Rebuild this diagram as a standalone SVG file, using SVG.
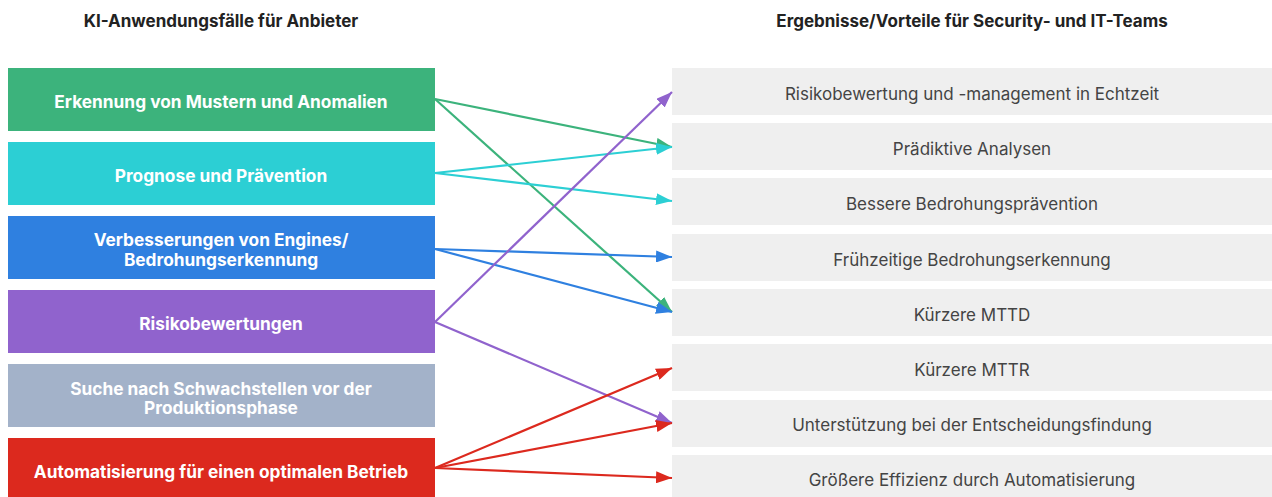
<svg xmlns="http://www.w3.org/2000/svg" width="1272" height="497" viewBox="0 0 1272 497">
<style>
.hdr{font-family:Inter,"Liberation Sans",sans-serif;font-size:17px;font-weight:700;fill:#222;text-anchor:middle}
.lt{font-family:Inter,"Liberation Sans",sans-serif;font-size:17.3px;font-weight:700;fill:#fff;text-anchor:middle}
.rt{font-family:Inter,"Liberation Sans",sans-serif;font-size:17px;fill:#444;text-anchor:middle}
.rb{fill:#efefef}
.c{fill:none;stroke-width:2.2}
</style>
<defs>
<marker id="mg" viewBox="0 0 16 12" refX="16" refY="6" markerWidth="16" markerHeight="12" markerUnits="userSpaceOnUse" orient="auto"><path d="M0,0 L16,6 L0,12 z" fill="#3cb37c"/></marker>
<marker id="mc" viewBox="0 0 16 12" refX="16" refY="6" markerWidth="16" markerHeight="12" markerUnits="userSpaceOnUse" orient="auto"><path d="M0,0 L16,6 L0,12 z" fill="#2ccfd4"/></marker>
<marker id="mb" viewBox="0 0 16 12" refX="16" refY="6" markerWidth="16" markerHeight="12" markerUnits="userSpaceOnUse" orient="auto"><path d="M0,0 L16,6 L0,12 z" fill="#2f80e0"/></marker>
<marker id="mp" viewBox="0 0 16 12" refX="16" refY="6" markerWidth="16" markerHeight="12" markerUnits="userSpaceOnUse" orient="auto"><path d="M0,0 L16,6 L0,12 z" fill="#9063cd"/></marker>
<marker id="mr" viewBox="0 0 16 12" refX="16" refY="6" markerWidth="16" markerHeight="12" markerUnits="userSpaceOnUse" orient="auto"><path d="M0,0 L16,6 L0,12 z" fill="#dc291e"/></marker>
</defs>
<rect width="1272" height="497" fill="#fff"/>
<text class="hdr" x="221" y="27">KI-Anwendungsfälle für Anbieter</text>
<text class="hdr" x="972" y="27">Ergebnisse/Vorteile für Security- und IT-Teams</text>

<g id="l1"><rect x="8" y="68" width="427" height="63" fill="#3cb37c"/><text class="lt" x="221" y="108">Erkennung von Mustern und Anomalien</text></g>
<g id="l2"><rect x="8" y="142" width="427" height="63" fill="#2ccfd4"/><text class="lt" x="221" y="182">Prognose und Prävention</text></g>
<g id="l3"><rect x="8" y="216" width="427" height="63" fill="#2f80e0"/><text class="lt" x="221" y="246">Verbesserungen von Engines/</text><text class="lt" x="221" y="266">Bedrohungserkennung</text></g>
<g id="l4"><rect x="8" y="290" width="427" height="63" fill="#9063cd"/><text class="lt" x="221" y="330">Risikobewertungen</text></g>
<g id="l5"><rect x="8" y="364" width="427" height="63" fill="#a3b2c9"/><text class="lt" x="221" y="395">Suche nach Schwachstellen vor der</text><text class="lt" x="221" y="414">Produktionsphase</text></g>
<g id="l6"><rect x="8" y="438" width="427" height="63" fill="#dc291e"/><text class="lt" x="221" y="478">Automatisierung für einen optimalen Betrieb</text></g>

<g id="r1"><rect class="rb" x="672" y="68" width="600" height="47"/><text class="rt" x="972" y="100">Risikobewertung und -management in Echtzeit</text></g>
<g id="r2"><rect class="rb" x="672" y="123" width="600" height="47"/><text class="rt" x="972" y="155">Prädiktive Analysen</text></g>
<g id="r3"><rect class="rb" x="672" y="178" width="600" height="47"/><text class="rt" x="972" y="210">Bessere Bedrohungsprävention</text></g>
<g id="r4"><rect class="rb" x="672" y="234" width="600" height="47"/><text class="rt" x="972" y="266">Frühzeitige Bedrohungserkennung</text></g>
<g id="r5"><rect class="rb" x="672" y="289" width="600" height="47"/><text class="rt" x="972" y="321">Kürzere MTTD</text></g>
<g id="r6"><rect class="rb" x="672" y="344" width="600" height="47"/><text class="rt" x="972" y="376">Kürzere MTTR</text></g>
<g id="r7"><rect class="rb" x="672" y="400" width="600" height="47"/><text class="rt" x="972" y="431">Unterstützung bei der Entscheidungsfindung</text></g>
<g id="r8"><rect class="rb" x="672" y="455" width="600" height="47"/><text class="rt" x="972" y="486">Größere Effizienz durch Automatisierung</text></g>

<g id="connectors">
<line class="c" x1="435" y1="99" x2="672" y2="147" stroke="#3cb37c" marker-end="url(#mg)"/>
<line class="c" x1="435" y1="99" x2="672" y2="312" stroke="#3cb37c" marker-end="url(#mg)"/>
<line class="c" x1="435" y1="173" x2="672" y2="147" stroke="#2ccfd4" marker-end="url(#mc)"/>
<line class="c" x1="435" y1="173" x2="672" y2="201" stroke="#2ccfd4" marker-end="url(#mc)"/>
<line class="c" x1="435" y1="249" x2="672" y2="257" stroke="#2f80e0" marker-end="url(#mb)"/>
<line class="c" x1="435" y1="249" x2="672" y2="312" stroke="#2f80e0" marker-end="url(#mb)"/>
<line class="c" x1="435" y1="322" x2="672" y2="92" stroke="#9063cd" marker-end="url(#mp)"/>
<line class="c" x1="435" y1="322" x2="672" y2="423" stroke="#9063cd" marker-end="url(#mp)"/>
<line class="c" x1="435" y1="468" x2="672" y2="368" stroke="#dc291e" marker-end="url(#mr)"/>
<line class="c" x1="435" y1="468" x2="672" y2="423" stroke="#dc291e" marker-end="url(#mr)"/>
<line class="c" x1="435" y1="468" x2="672" y2="478" stroke="#dc291e" marker-end="url(#mr)"/>
</g>
</svg>
